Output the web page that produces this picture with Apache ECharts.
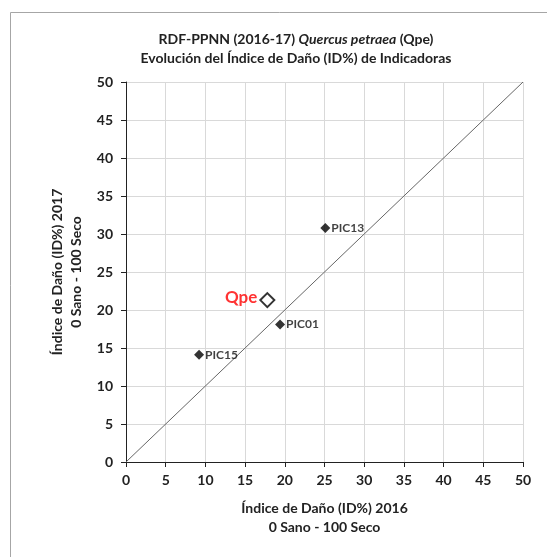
<!DOCTYPE html>
<html><head><meta charset="utf-8">
<script src="https://cdn.jsdelivr.net/npm/echarts@6/dist/echarts.min.js"></script>
<style>html,body{margin:0;padding:0;background:#fff}#c{width:547px;height:557px}</style>
</head><body><div id="c"></div>
<script>
const pointNames = ['PIC13', 'PIC01', 'PIC15'];
const x2016 = [25.1, 19.4, 9.2];
const y2017 = [30.8, 18.1, 14.1];
const meanName = 'Qpe';
const meanX = 17.8;
const meanY = 21.3;
const diagonal = [[0, 0], [50, 50]];
const axisTicks = [0, 5, 10, 15, 20, 25, 30, 35, 40, 45, 50];

const chart = echarts.init(document.getElementById('c'));
const tickFont = {fontFamily: 'Lato', fontWeight: 'bold', fontSize: 14, color: '#222'};
chart.setOption({
  animation: false,
  graphic: [{type: 'rect', shape: {x: 10.5, y: 12.5, width: 600, height: 600}, style: {fill: 'none', stroke: '#a6a6a6', lineWidth: 1}, z: -1}],
  title: {
    left: 291, top: 25, textAlign: 'center',
    text: '{n|RDF-PPNN (2016-17) }{i|Quercus petraea}{n| (Qpe)}\n{n|Evolución del Índice de Daño (ID%) de Indicadoras}',
    textStyle: {
      fontFamily: 'Lato', fontSize: 14, lineHeight: 19,
      rich: {
        n: {fontFamily: 'Lato', fontWeight: 'bold', fontSize: 14, color: '#222', lineHeight: 19},
        i: {fontFamily: 'Lato', fontWeight: 'bold', fontStyle: 'italic', fontSize: 14, color: '#222', lineHeight: 19}
      }
    }
  },
  grid: {left: 126, right: 24, top: 82, bottom: 95, containLabel: false},
  xAxis: {
    type: 'value', min: 0, max: 50, interval: 5,
    name: 'Índice de Daño (ID%) 2016\n0 Sano - 100 Seco', nameLocation: 'middle', nameGap: 37,
    nameTextStyle: {fontFamily: 'Lato', fontWeight: 'bold', fontSize: 14, color: '#222', lineHeight: 19},
    axisLine: {show: true, lineStyle: {color: '#222', width: 1}},
    axisTick: {show: true, inside: false, length: 5, lineStyle: {color: '#222'}},
    axisLabel: Object.assign({margin: 11, formatter: v => axisTicks.includes(v) ? String(v) : ''}, tickFont),
    splitLine: {show: true, lineStyle: {color: '#d9d9d9', width: 1}}
  },
  yAxis: {
    type: 'value', min: 0, max: 50, interval: 5,
    name: 'Índice de Daño (ID%) 2017\n0 Sano - 100 Seco', nameLocation: 'middle', nameGap: 31, nameRotate: 90,
    nameTextStyle: {fontFamily: 'Lato', fontWeight: 'bold', fontSize: 14, color: '#222', lineHeight: 19},
    axisLine: {show: true, lineStyle: {color: '#222', width: 1}},
    axisTick: {show: true, inside: false, length: 5, lineStyle: {color: '#222'}},
    axisLabel: Object.assign({margin: 13, formatter: v => axisTicks.includes(v) ? String(v) : ''}, tickFont),
    splitLine: {show: true, lineStyle: {color: '#d9d9d9', width: 1}}
  },
  series: [
    {
      type: 'line', data: diagonal, symbol: 'none', silent: true,
      lineStyle: {color: '#666', width: 1}, z: 2
    },
    {
      type: 'scatter', symbol: 'diamond', symbolSize: 10,
      itemStyle: {color: '#000'},
      data: pointNames.map((n, i) => ({name: n, value: [x2016[i], y2017[i]]})),
      label: {show: true, position: 'right', distance: 1, formatter: p => p.name,
        fontFamily: 'Lato', fontWeight: 'bold', fontSize: 12, color: '#111'},
      z: 3
    },
    {
      type: 'scatter', symbol: 'diamond', symbolSize: 14,
      itemStyle: {color: '#fff', borderColor: '#000', borderWidth: 2},
      data: [{name: meanName, value: [meanX, meanY]}],
      label: {show: true, position: 'left', distance: 2, offset: [0, -3], formatter: p => p.name,
        fontFamily: 'Lato', fontWeight: 'bold', fontSize: 17, color: '#ff0000'},
      z: 4
    }
  ]
});
</script></body></html>
